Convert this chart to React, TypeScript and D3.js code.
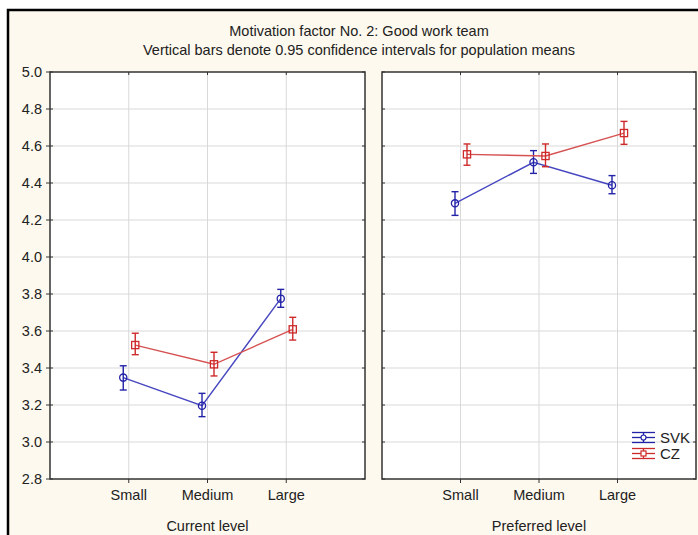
import * as d3 from "d3";

const categories = ["Small", "Medium", "Large"];
const panels = ["Current level", "Preferred level"];
const yTicks = [2.8, 3.0, 3.2, 3.4, 3.6, 3.8, 4.0, 4.2, 4.4, 4.6, 4.8, 5.0];

// means and 0.95 CI bounds, per panel
const svkCurrent = [3.348, 3.196, 3.775];
const svkCurrentLo = [3.281, 3.137, 3.728];
const svkCurrentHi = [3.412, 3.263, 3.825];
const czCurrent = [3.524, 3.42, 3.609];
const czCurrentLo = [3.472, 3.357, 3.551];
const czCurrentHi = [3.588, 3.485, 3.674];

const svkPreferred = [4.29, 4.512, 4.388];
const svkPreferredLo = [4.225, 4.452, 4.342];
const svkPreferredHi = [4.353, 4.575, 4.44];
const czPreferred = [4.555, 4.546, 4.67];
const czPreferredLo = [4.496, 4.488, 4.609];
const czPreferredHi = [4.611, 4.611, 4.733];

const BLUE = "#2323a8";
const BLUE_LINE = "#4646c0";
const RED = "#cf2a2a";
const RED_LINE = "#d65252";
const FONT = "'Liberation Sans', Arial, sans-serif";
const FS = 14.5;

const panelX = [[50, 365], [382, 696]];
const top = 72;
const bottom = 479;

const y = d3.scaleLinear().domain([2.8, 5.0]).range([bottom, top]);

type Series = { name: string; mean: number[]; lo: number[]; hi: number[]; color: string; lineColor: string; shape: "circle" | "square"; offset: number };

const panelSeries: Series[][] = [
  [
    { name: "SVK", mean: svkCurrent, lo: svkCurrentLo, hi: svkCurrentHi, color: BLUE, lineColor: BLUE_LINE, shape: "circle", offset: -5.5 },
    { name: "CZ", mean: czCurrent, lo: czCurrentLo, hi: czCurrentHi, color: RED, lineColor: RED_LINE, shape: "square", offset: 6.5 },
  ],
  [
    { name: "SVK", mean: svkPreferred, lo: svkPreferredLo, hi: svkPreferredHi, color: BLUE, lineColor: BLUE_LINE, shape: "circle", offset: -5.5 },
    { name: "CZ", mean: czPreferred, lo: czPreferredLo, hi: czPreferredHi, color: RED, lineColor: RED_LINE, shape: "square", offset: 6.5 },
  ],
];

function Marker({ cx, cy, s }: { cx: number; cy: number; s: Series }) {
  if (s.shape === "circle") return <circle cx={cx} cy={cy} r={3.6} fill="none" stroke={s.color} strokeWidth={1.3} />;
  return <rect x={cx - 3.6} y={cy - 3.6} width={7.2} height={7.2} fill="none" stroke={s.color} strokeWidth={1.3} />;
}

function Panel({ idx }: { idx: number }) {
  const [x0, x1] = panelX[idx];
  const x = d3.scaleLinear().domain([0, 4]).range([x0, x1]);
  const line = d3.line<[number, number]>().x((d) => d[0]).y((d) => d[1]);
  return (
    <g>
      <rect x={x0} y={top} width={x1 - x0} height={bottom - top} fill="#ffffff" />
      {yTicks.slice(1, -1).map((t) => (
        <line key={t} x1={x0} x2={x1} y1={y(t)} y2={y(t)} stroke="#d9d9d9" strokeWidth={1} />
      ))}
      {[1, 2, 3].map((i) => (
        <line key={i} x1={x(i)} x2={x(i)} y1={top} y2={bottom} stroke="#d9d9d9" strokeWidth={1} />
      ))}
      {/* ticks */}
      {yTicks.map((t) => (
        <g key={t}>
          <line x1={x0} x2={x0 + 3} y1={y(t)} y2={y(t)} stroke="#333" />
          <line x1={x1 - 3} x2={x1} y1={y(t)} y2={y(t)} stroke="#333" />
        </g>
      ))}
      {[1, 2, 3].map((i) => (
        <g key={i}>
          <line x1={x(i)} x2={x(i)} y1={top} y2={top + 3} stroke="#333" />
          <line x1={x(i)} x2={x(i)} y1={bottom} y2={bottom + 4} stroke="#333" />
        </g>
      ))}
      <rect x={x0} y={top} width={x1 - x0} height={bottom - top} fill="none" stroke="#333" strokeWidth={1.5} />
      {panelSeries[idx].map((s) => {
        const pts = s.mean.map((m, i) => [x(i + 1) + s.offset, y(m)] as [number, number]);
        return (
          <g key={s.name}>
            <path d={line(pts)!} fill="none" stroke={s.lineColor} strokeWidth={1.4} />
            {pts.map((p, i) => (
              <g key={i} stroke={s.color} strokeWidth={1.4}>
                <line x1={p[0]} x2={p[0]} y1={y(s.hi[i])} y2={y(s.lo[i])} />
                <line x1={p[0] - 3.5} x2={p[0] + 3.5} y1={y(s.hi[i])} y2={y(s.hi[i])} />
                <line x1={p[0] - 3.5} x2={p[0] + 3.5} y1={y(s.lo[i])} y2={y(s.lo[i])} />
              </g>
            ))}
            {pts.map((p, i) => (
              <Marker key={i} cx={p[0]} cy={p[1]} s={s} />
            ))}
          </g>
        );
      })}
      {categories.map((c, i) => (
        <text key={c} x={x(i + 1)} y={500} textAnchor="middle" fontSize={FS} fontFamily={FONT} fill="#222">{c}</text>
      ))}
      <text x={(x0 + x1) / 2} y={531} textAnchor="middle" fontSize={FS} fontFamily={FONT} fill="#222">{panels[idx]}</text>
    </g>
  );
}

function Legend() {
  const items = panelSeries[1];
  const lx = 632;
  const lw = 23;
  return (
    <g>
      {items.map((s, i) => {
        const cy = 437.5 + i * 16;
        const cx = lx + lw / 2;
        return (
          <g key={s.name}>
            <g stroke={s.color} strokeWidth={1.3}>
              <line x1={lx} x2={lx + lw} y1={cy - 5} y2={cy - 5} />
              <line x1={lx} x2={lx + lw} y1={cy} y2={cy} />
              <line x1={lx} x2={lx + lw} y1={cy + 5} y2={cy + 5} />
              <line x1={cx} x2={cx} y1={cy - 5} y2={cy + 5} />
            </g>
            {s.shape === "circle" ? (
              <circle cx={cx} cy={cy} r={2.5} fill="#fff" stroke={s.color} strokeWidth={1.2} />
            ) : (
              <rect x={cx - 2.5} y={cy - 2.5} width={5} height={5} fill="#fff" stroke={s.color} strokeWidth={1.2} />
            )}
            <text x={lx + lw + 5} y={cy + 5} fontSize={15} fontFamily={FONT} fill="#222">{s.name}</text>
          </g>
        );
      })}
    </g>
  );
}

export default function App() {
  return (
    <svg width={698} height={535} style={{ position: "absolute", left: 0, top: 0 }}>
      <rect x={0} y={0} width={698} height={535} fill="#ffffff" />
      <rect x={8} y={10} width={700} height={540} fill="#fdf9ee" stroke="#000" strokeWidth={2.5} />
      <text x={359} y={36} textAnchor="middle" fontSize={FS} fontFamily={FONT} fill="#222">Motivation factor No. 2: Good work team</text>
      <text x={359} y={55} textAnchor="middle" fontSize={FS} fontFamily={FONT} fill="#222">Vertical bars denote 0.95 confidence intervals for population means</text>
      {yTicks.map((t) => (
        <g key={t}>
          <line x1={46} x2={50} y1={y(t)} y2={y(t)} stroke="#333" />
          <text x={42} y={y(t) + 5} textAnchor="end" fontSize={FS} fontFamily={FONT} fill="#222">{t.toFixed(1)}</text>
        </g>
      ))}
      <Panel idx={0} />
      <Panel idx={1} />
      <Legend />
    </svg>
  );
}
